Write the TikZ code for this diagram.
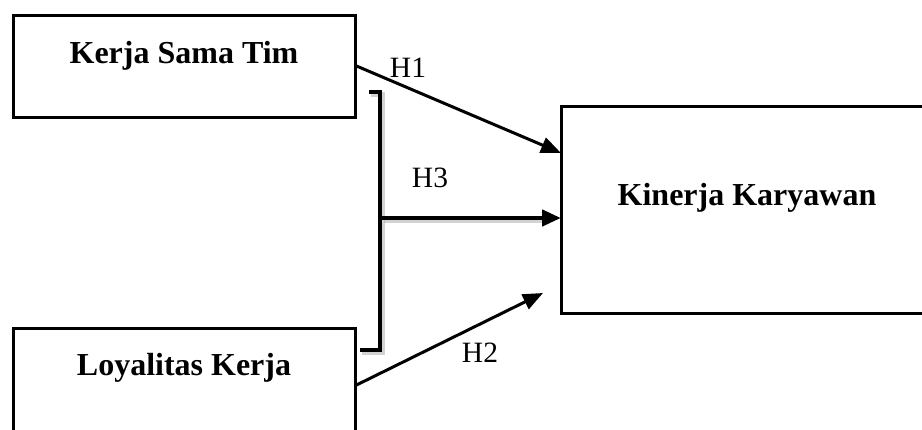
\documentclass[tikz,border=0pt]{standalone}
\usepackage{fontspec}
\setmainfont{Liberation Serif}
\usetikzlibrary{arrows.meta}
\begin{document}
\begin{tikzpicture}[x=1pt,y=-1pt,
  varbox/.style={draw, line width=3pt, rectangle, inner sep=0pt},
  boxtext/.style={anchor=base, font=\fontsize{32}{36}\selectfont\bfseries},
  hyplabel/.style={anchor=center, font=\fontsize{29.5}{34}\selectfont},
  link/.style={line width=3pt, -{Triangle[length=20pt,width=16pt]}},
  thicklink/.style={line width=4.5pt, -{Triangle[length=19pt,width=16pt]}},
  bracketline/.style={line width=4.5pt},
  softshadow/.style={draw=black!35, opacity=0.5, line width=5pt}]
  \clip (0,0) rectangle (922,429);

  % variable boxes
  \node[varbox, minimum width=342pt, minimum height=102pt] (kst) at (184,66) {};
  \node[boxtext] (kstt) at (184,63) {Kerja Sama Tim};
  \node[varbox, minimum width=342pt, minimum height=124pt] (lk) at (184,390) {};
  \node[boxtext] (lkt) at (184,375) {Loyalitas Kerja};
  \node[varbox, minimum width=380pt, minimum height=207pt] (kk) at (751,209.5) {};
  \node[boxtext] (kkt) at (747,205) {Kinerja Karyawan};

  % bracket joining both predictors, with a faint drop shadow
  \coordinate (bt) at (369,92);
  \coordinate (bb) at (360,350);
  \coordinate (bm) at (380,218);
  \draw[softshadow] ([shift={(2,2)}]bt) -- (382,94) -- (382,352) -- ([shift={(2,2)}]bb);
  \draw[softshadow] (384,220) -- (545,220);
  \draw[bracketline] (bt) -- (380,92) -- (380,350) -- (bb);

  % hypothesis paths
  \coordinate (h1end) at (561,153);
  \coordinate (h3end) at (561,218);
  \coordinate (h2end) at (543,293);
  \draw[link] (kst.east) -- (h1end);
  \draw[thicklink] (bm) -- (h3end);
  \draw[link] ([yshift=5pt]lk.east) -- (h2end);

  \node[hyplabel] (l1) at (408,68) {H1};
  \node[hyplabel] (l3) at (430,177.5) {H3};
  \node[hyplabel] (l2) at (480,352.5) {H2};
\end{tikzpicture}
\end{document}
